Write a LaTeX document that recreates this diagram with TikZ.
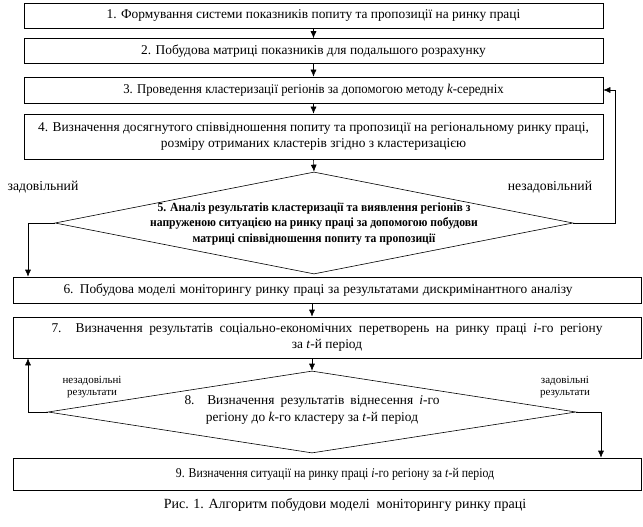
\documentclass[tikz,border=0pt]{standalone}
\usepackage{fontspec}
\setmainfont{Liberation Serif}
\newfontfamily\boldcond[FakeStretch=0.93]{Liberation Serif}
\newfontfamily\narrowfont[FakeStretch=0.88]{Liberation Serif}
\newfontfamily\slightfont[FakeStretch=0.95]{Liberation Serif}
\usetikzlibrary{shapes.geometric,arrows.meta,calc}
\begin{document}
\begin{tikzpicture}[x=1pt,y=-1pt,
  box/.style={draw, line width=0.6pt, inner sep=0pt, align=center, font=\fontsize{13.4}{15.5}\selectfont},
  dia/.style={draw, diamond, line width=0.6pt, inner sep=0pt},
  arr/.style={line width=0.6pt, -{Latex[length=7pt,width=6pt]}},
  lbl/.style={font=\fontsize{13.7}{15}\selectfont, inner sep=0pt},
  slbl/.style={font=\fontsize{11}{12.5}\selectfont, align=center, inner sep=0pt},
  dtext/.style={align=center, inner sep=0pt}]
\useasboundingbox (0,0) rectangle (643,527);
\node[box, minimum width=579pt, minimum height=25pt] (b1) at (313.5,15.5) {1. Формування системи показників попиту та пропозиції на ринку праці};
\node[box, minimum width=579pt, minimum height=25pt] (b2) at (313.5,51) {2. Побудова матриці показників для подальшого розрахунку};
\node[box, minimum width=579pt, minimum height=26pt, font={\slightfont\fontsize{13.4}{15.5}\selectfont}] (b3) at (313.5,90) {3. Проведення кластеризації регіонів за допомогою методу \textit{k}-середніх};
\node[box, minimum width=579pt, minimum height=45pt] (b4) at (313.5,136.5) {4. Визначення досягнутого співвідношення попиту та пропозиції на регіональному ринку праці,\\розміру отриманих кластерів згідно з кластеризацією};
\node[dia, minimum width=518pt, minimum height=102pt] (d5) at (314,223) {};
\node[dtext, font={\boldcond\bfseries\fontsize{12.5}{15.5}\selectfont}] (t5) at (314,224) {5. Аналіз результатів кластеризації та виявлення регіонів з\\напруженою ситуацією на ринку праці за допомогою побудови\\матриці співвідношення попиту та пропозиції};
\node[box, minimum width=628pt, minimum height=26pt] (b6) at (327,290) {\makebox[509pt][s]{6. Побудова моделі моніторингу ринку праці за результатами дискримінантного аналізу}\hspace{18pt}};
\node[box, minimum width=628pt, minimum height=41pt] (b7) at (327,337.5) {\makebox[551pt][s]{7. Визначення результатів соціально-економічних перетворень на ринку праці \textit{i}-го регіону}\hspace{25pt}\\за \textit{t}-й період};
\node[dia, minimum width=528pt, minimum height=82pt] (d8) at (312,412) {};
\node[dtext, font=\fontsize{13.4}{17}\selectfont] (t8) at (312,410) {\makebox[255pt][s]{8. Визначення результатів віднесення \textit{i}-го}\\регіону до \textit{k}-го кластеру за \textit{t}-й період};
\node[box, minimum width=628pt, minimum height=32pt, font={\narrowfont\fontsize{13.4}{15.5}\selectfont}] (b9) at (327,474) {\hspace{16pt}9. Визначення ситуації на ринку праці \textit{i}-го регіону за \textit{t}-й період};
\node[lbl, font=\fontsize{14}{16}\selectfont] (cap) at (345,505) {Рис. 1. Алгоритм побудови моделі\ \ моніторингу ринку праці};
\node[lbl] (ok5) at (43,187) {задовільний};
\node[lbl] (nok5) at (550,187) {незадовільний};
\node[slbl] (nok8) at (92,387) {незадовільні\\результати};
\node[slbl] (ok8) at (565,387) {задовільні\\результати};
\coordinate (l5) at (28,223);
\coordinate (r5) at (615,223);
\coordinate (l8) at (28,412);
\coordinate (r8) at (601,412);
\draw[arr] (b1.south) -- (b2.north);
\draw[arr] (b2.south) -- (b3.north);
\draw[arr] (b3.south) -- (b4.north);
\draw[arr] (b4.south) -- (d5.north);
\draw[arr] (d5.west) -- (l5) -- (l5 |- b6.north);
\draw[arr] (d5.east) -- (r5) |- (b3.east);
\draw[arr] (b6.south -| d8.north) -- (b7.north -| d8.north);
\draw[arr] (b7.south -| d8.north) -- (d8.north);
\draw[arr] (d8.west) -- (l8) -- (l8 |- b7.south);
\draw[arr] (d8.east) -- (r8) -- (r8 |- b9.north);
\end{tikzpicture}
\end{document}
